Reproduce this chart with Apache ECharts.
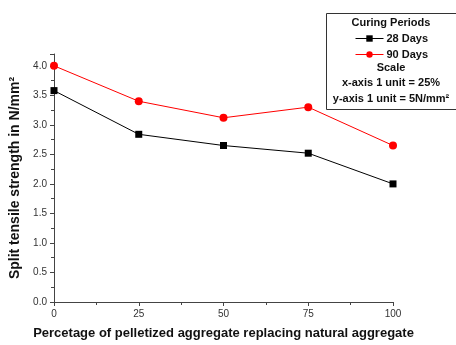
<!DOCTYPE html>
<html>
<head>
<meta charset="utf-8">
<script src="https://cdn.jsdelivr.net/npm/echarts@6/dist/echarts.min.js"></script>
<style>
  html, body { margin: 0; padding: 0; background: #fff; }
  #chart { width: 456px; height: 345px; }
</style>
</head>
<body>
<div id="chart"></div>
<script>
// Replacement percentage of natural aggregate by pelletized aggregate
var replacement = [0, 25, 50, 75, 100];
// Split tensile strength (N/mm²) per curing period
var days28 = [3.58, 2.84, 2.65, 2.52, 2.0];
var days90 = [4.0, 3.4, 3.12, 3.3, 2.65];
var seriesNames = ['28 Days', '90 Days'];
var legendTitle = 'Curing Periods';
var scaleLines = ['Scale', 'x-axis 1 unit = 25%', 'y-axis 1 unit = 5N/mm²'];

function pairs(xs, ys) {
  return xs.map(function (x, i) { return [x, ys[i]]; });
}

var font = 'Arial, "Liberation Sans", sans-serif';
var axisColor = '#444';

var chart = echarts.init(document.getElementById('chart'), null, { renderer: 'canvas' });
chart.setOption({
  animation: false,
  backgroundColor: '#fff',
  grid: { left: 54, right: 63, top: 54, bottom: 41, containLabel: false },
  xAxis: {
    type: 'value', min: 0, max: 100, interval: 25,
    name: 'Percetage of pelletized aggregate replacing natural aggregate',
    nameLocation: 'middle', nameGap: 25,
    nameTextStyle: { fontFamily: font, fontWeight: 'bold', fontSize: 13, color: '#111' },
    axisLine: { show: true, onZero: false, lineStyle: { color: axisColor, width: 1 } },
    axisTick: { show: true, inside: false, length: 4, lineStyle: { color: axisColor } },
    minorTick: { show: true, splitNumber: 2, length: 3, lineStyle: { color: axisColor } },
    axisLabel: { fontFamily: font, fontSize: 10, color: '#333', margin: 7 },
    splitLine: { show: false }
  },
  yAxis: {
    type: 'value', min: 0, max: 4.2, interval: 0.5,
    name: 'Split tensile strength in N/mm²',
    nameLocation: 'middle', nameGap: 26,
    nameTextStyle: { fontFamily: font, fontWeight: 'bold', fontSize: 14, color: '#111' },
    axisLine: { show: true, onZero: false, lineStyle: { color: axisColor, width: 1 } },
    axisTick: { show: true, inside: false, length: 4, lineStyle: { color: axisColor } },
    minorTick: { show: true, splitNumber: 2, length: 3, lineStyle: { color: axisColor } },
    axisLabel: {
      fontFamily: font, fontSize: 10, color: '#333', margin: 7, showMaxLabel: false,
      formatter: function (v) { return v.toFixed(1); }
    },
    splitLine: { show: false }
  },
  legend: {
    orient: 'vertical', left: 355, top: 33, itemGap: 5, padding: 0,
    itemWidth: 28, itemHeight: 8,
    lineStyle: { width: 1 },
    textStyle: { fontFamily: font, fontWeight: 'bold', fontSize: 11, color: '#111', padding: [0, 0, 0, -2] },
    data: seriesNames
  },
  series: [
    {
      name: seriesNames[0], type: 'line', data: pairs(replacement, days28),
      symbol: 'rect', symbolSize: 7,
      lineStyle: { color: '#000', width: 1 }, itemStyle: { color: '#000' }
    },
    {
      name: seriesNames[1], type: 'line', data: pairs(replacement, days90),
      symbol: 'circle', symbolSize: 8,
      lineStyle: { color: '#ff0000', width: 1 }, itemStyle: { color: '#ff0000' }
    }
  ],
  graphic: [
    { type: 'rect', shape: { x: 326.5, y: 13.5, width: 160, height: 96 },
      style: { fill: 'none', stroke: '#333', lineWidth: 1 } },
    { type: 'text', x: 391, y: 23, style: { text: legendTitle, font: 'bold 11px ' + font, fill: '#111', align: 'center', verticalAlign: 'middle' } },
    { type: 'text', x: 391, y: 68, style: { text: scaleLines[0], font: 'bold 11px ' + font, fill: '#111', align: 'center', verticalAlign: 'middle' } },
    { type: 'text', x: 391, y: 83, style: { text: scaleLines[1], font: 'bold 11px ' + font, fill: '#111', align: 'center', verticalAlign: 'middle' } },
    { type: 'text', x: 391, y: 99, style: { text: scaleLines[2], font: 'bold 11px ' + font, fill: '#111', align: 'center', verticalAlign: 'middle' } }
  ]
});
</script>
</body>
</html>
